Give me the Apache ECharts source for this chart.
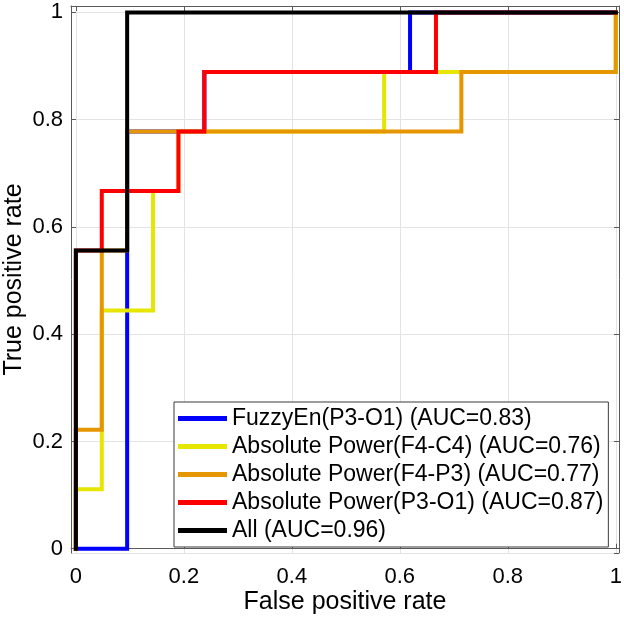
<!DOCTYPE html>
<html>
<head>
<meta charset="utf-8">
<script src="https://cdn.jsdelivr.net/npm/echarts@6/dist/echarts.min.js"></script>
<style>
  html, body { margin: 0; padding: 0; background: #fff; }
  #rocChart { width: 624px; height: 622px; }
</style>
</head>
<body>
<div id="rocChart"></div>
<script>
// ROC curves, step points (FPR, TPR)
const seriesNames = [
  'FuzzyEn(P3-O1) (AUC=0.83)',
  'Absolute Power(F4-C4) (AUC=0.76)',
  'Absolute Power(F4-P3) (AUC=0.77)',
  'Absolute Power(P3-O1) (AUC=0.87)',
  'All (AUC=0.96)'
];
const seriesColors = ['#0000ff', '#e6e600', '#e69600', '#ff0000', '#000000'];

const fuzzyFpr = [0, 0.095, 0.095, 0.238, 0.238, 0.619, 0.619, 1];
const fuzzyTpr = [0, 0, 0.778, 0.778, 0.889, 0.889, 1, 1];

const f4c4Fpr = [0, 0, 0.048, 0.048, 0.143, 0.143, 0.190, 0.190, 0.571, 0.571, 1, 1];
const f4c4Tpr = [0, 0.111, 0.111, 0.444, 0.444, 0.667, 0.667, 0.778, 0.778, 0.889, 0.889, 1];

const f4p3Fpr = [0, 0, 0.048, 0.048, 0.095, 0.095, 0.714, 0.714, 1, 1];
const f4p3Tpr = [0, 0.222, 0.222, 0.556, 0.556, 0.778, 0.778, 0.889, 0.889, 1];

const p3o1Fpr = [0, 0, 0.048, 0.048, 0.190, 0.190, 0.238, 0.238, 0.667, 0.667, 1];
const p3o1Tpr = [0, 0.556, 0.556, 0.667, 0.667, 0.778, 0.778, 0.889, 0.889, 1, 1];

const allFpr = [0, 0, 0.095, 0.095, 1];
const allTpr = [0, 0.556, 0.556, 1, 1];

const curves = [
  [fuzzyFpr, fuzzyTpr],
  [f4c4Fpr, f4c4Tpr],
  [f4p3Fpr, f4p3Tpr],
  [p3o1Fpr, p3o1Tpr],
  [allFpr, allTpr]
];

const fontFamily = '"Liberation Sans", Arial, Helvetica, sans-serif';
const frameColor = '#5a5a5a';
const gridColor = '#e3e3e3';

function zip(xs, ys) {
  return xs.map((x, i) => [x, ys[i]]);
}

const chart = echarts.init(document.getElementById('rocChart'), null, { renderer: 'canvas' });

const xBase = {
  type: 'value',
  min: -0.009,
  max: 1.006,
  splitNumber: 5
};
const yBase = {
  type: 'value',
  min: -0.008,
  max: 1.012,
  splitNumber: 5
};

const option = {
  animation: false,
  backgroundColor: '#ffffff',
  textStyle: { fontFamily: fontFamily },
  grid: {
    left: 71,
    right: 5,
    top: 6,
    bottom: 69,
    outerBoundsMode: 'none',
    containLabel: false
  },
  legend: {
    orient: 'vertical',
    left: 174,
    top: 402,
    icon: 'rect',
    itemWidth: 49,
    itemHeight: 5,
    itemGap: 5,
    padding: [5, 5, 5, 4],
    backgroundColor: '#ffffff',
    borderColor: '#3a3a3a',
    borderWidth: 1,
    borderRadius: 0,
    selectedMode: false,
    textStyle: {
      fontFamily: fontFamily,
      fontSize: 23,
      lineHeight: 22,
      color: '#000000'
    },
    data: seriesNames
  },
  xAxis: [
    Object.assign({}, xBase, {
      position: 'bottom',
      name: 'False positive rate',
      nameLocation: 'middle',
      nameGap: 37,
      nameMoveOverlap: false,
      nameTextStyle: { fontFamily: fontFamily, fontSize: 25, color: '#000000' },
      axisLine: { show: true, lineStyle: { color: frameColor, width: 1 } },
      axisTick: { show: true, inside: true, length: 5, lineStyle: { color: frameColor } },
      axisLabel: {
        showMinLabel: false,
        showMaxLabel: false,
        margin: 13,
        fontFamily: fontFamily,
        fontSize: 22,
        color: '#000000',
        formatter: v => String(Math.round(v * 10) / 10)
      },
      splitLine: { show: true, lineStyle: { color: gridColor, width: 1 } }
    }),
    Object.assign({}, xBase, {
      position: 'top',
      axisLine: { show: true, onZero: false, lineStyle: { color: frameColor, width: 1 } },
      axisTick: { show: true, inside: true, length: 5, lineStyle: { color: frameColor } },
      axisLabel: { show: false },
      splitLine: { show: false }
    })
  ],
  yAxis: [
    Object.assign({}, yBase, {
      position: 'left',
      name: 'True positive rate',
      nameLocation: 'middle',
      nameGap: 44,
      nameMoveOverlap: false,
      nameTextStyle: { fontFamily: fontFamily, fontSize: 25, color: '#000000' },
      axisLine: { show: true, onZero: false, lineStyle: { color: frameColor, width: 1 } },
      axisTick: { show: true, inside: true, length: 5, lineStyle: { color: frameColor } },
      axisLabel: {
        showMinLabel: false,
        showMaxLabel: false,
        margin: 8,
        fontFamily: fontFamily,
        fontSize: 22,
        color: '#000000',
        formatter: v => String(Math.round(v * 10) / 10)
      },
      splitLine: { show: true, lineStyle: { color: gridColor, width: 1 } }
    }),
    Object.assign({}, yBase, {
      position: 'right',
      axisLine: { show: true, onZero: false, lineStyle: { color: frameColor, width: 1 } },
      axisTick: { show: true, inside: true, length: 5, lineStyle: { color: frameColor } },
      axisLabel: { show: false },
      splitLine: { show: false }
    })
  ],
  series: curves.map((c, i) => ({
    name: seriesNames[i],
    type: 'line',
    xAxisIndex: 0,
    yAxisIndex: 0,
    data: zip(c[0], c[1]),
    symbol: 'none',
    clip: false,
    color: seriesColors[i],
    itemStyle: { color: seriesColors[i] },
    lineStyle: { color: seriesColors[i], width: 4, join: 'miter', cap: 'square' },
    emphasis: { disabled: true }
  }))
};

chart.setOption(option);
</script>
</body>
</html>
